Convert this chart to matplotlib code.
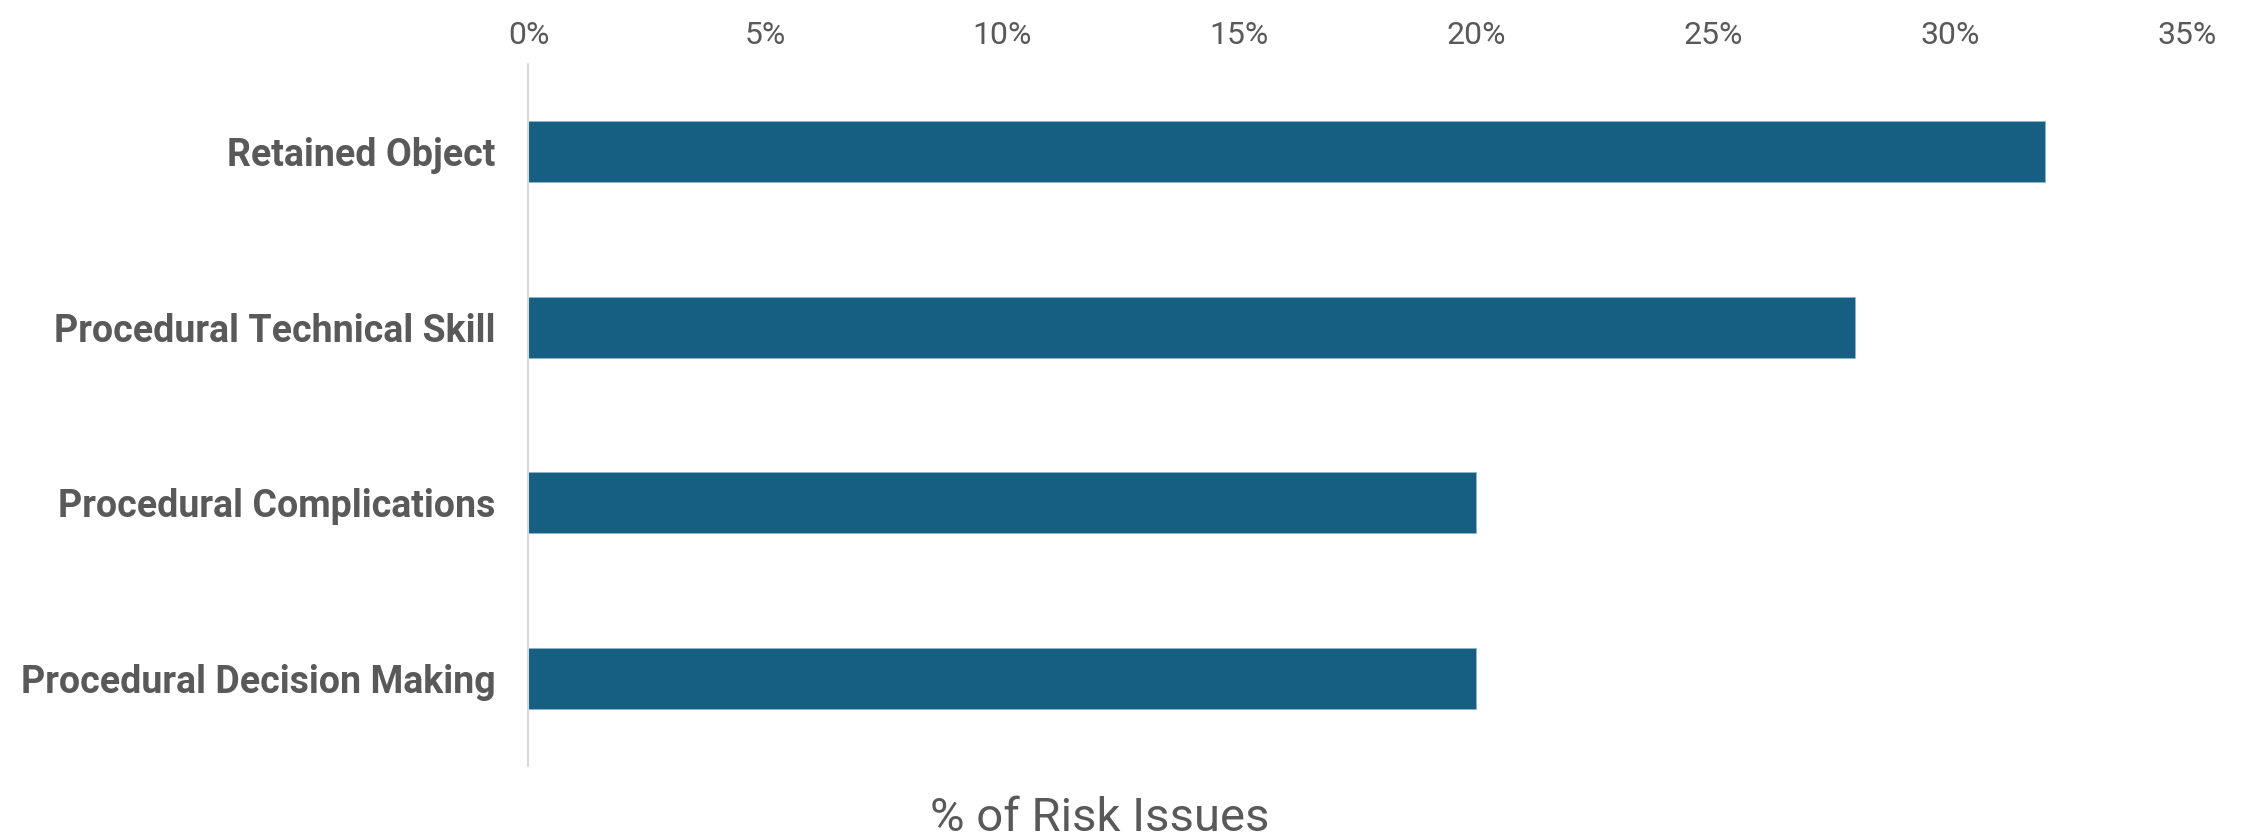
import matplotlib
matplotlib.use("Agg")
import matplotlib.pyplot as plt
from matplotlib.ticker import PercentFormatter

categories = ["Retained Object", "Procedural Technical Skill",
              "Procedural Complications", "Procedural Decision Making"]
values = [32, 28, 20, 20]
xticks = [0, 5, 10, 15, 20, 25, 30, 35]

plt.rcParams['font.family'] = ['Roboto', 'DejaVu Sans']
text_color = "#595959"
bar_color = "#175F82"

fig = plt.figure(figsize=(22.44, 8.36), dpi=100)
ax = fig.add_axes([0.2355, 0.0837, 0.9746 - 0.2355, 0.9234 - 0.0837])

ypos = list(range(len(categories)))
ax.barh(ypos, values, height=0.35, color=bar_color, edgecolor="#8fb3c8", linewidth=0.6)
ax.set_yticks(ypos)
ax.set_yticklabels(categories, fontsize=27, fontweight='bold', color=text_color)
ax.set_ylim(len(categories) - 0.5, -0.5)
ax.set_xlim(0, 35)
ax.set_xticks(xticks)
ax.xaxis.set_major_formatter(PercentFormatter(decimals=0))
ax.xaxis.tick_top()
ax.tick_params(axis='x', length=0, labelsize=23, labelcolor=text_color, pad=10)
ax.tick_params(axis='y', length=0, pad=24)
for s in ["top", "right", "bottom"]:
    ax.spines[s].set_visible(False)
ax.spines["left"].set_color("#D9D9D9")
ax.spines["left"].set_linewidth(1.5)

fig.text(0.49, 0.006, "% of Risk Issues", fontsize=34, color=text_color,
         ha="center", va="baseline")

fig.savefig("out.png", dpi=100, facecolor="white")
